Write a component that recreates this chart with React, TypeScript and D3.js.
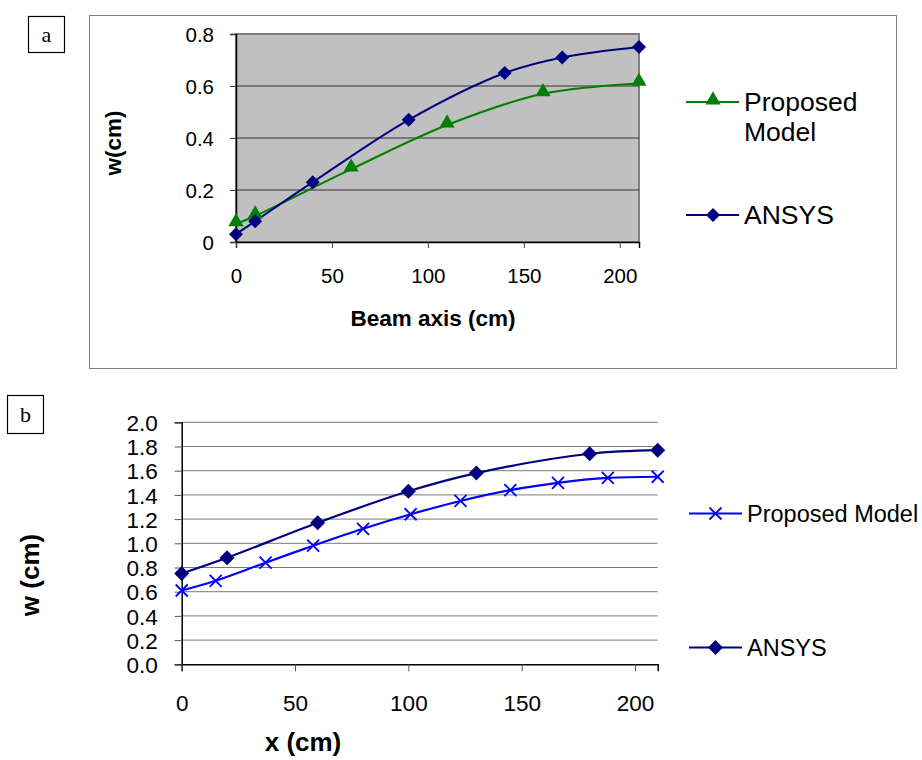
import React, { useEffect, useRef } from "react";
import * as d3 from "d3";

// panel a
const aProposedX = [0, 10, 60, 110, 160, 210];
const aProposedY = [0.07, 0.1, 0.28, 0.45, 0.57, 0.61];
const aAnsysX = [0, 10, 40, 90, 140, 170, 210];
const aAnsysY = [0.03, 0.08, 0.23, 0.47, 0.65, 0.71, 0.75];
const aYTicks = [0, 0.2, 0.4, 0.6, 0.8];
const aXTicks = [0, 50, 100, 150, 200];

// panel b
const bProposedX = [0, 15, 37, 58, 80, 101, 123, 145, 166, 188, 210];
const bProposedY = [0.61, 0.69, 0.84, 0.98, 1.12, 1.24, 1.35, 1.44, 1.5, 1.54, 1.55];
const bAnsysX = [0, 20, 60, 100, 130, 180, 210];
const bAnsysY = [0.75, 0.88, 1.17, 1.43, 1.58, 1.74, 1.77];
const bYTicks = [0, 0.2, 0.4, 0.6, 0.8, 1.0, 1.2, 1.4, 1.6, 1.8, 2.0];
const bXTicks = [0, 50, 100, 150, 200];

const FONT = "'Liberation Sans', Arial, sans-serif";
const GREEN = "#008000";
const NAVY = "#000080";
const BLUE = "#0000ff";

// square diamond (Excel style), r = half width
const diamond = (r: number) => `M0,${-r}L${r},0L0,${r}L${-r},0Z`;

export default function App() {
  const ref = useRef<SVGSVGElement>(null);

  useEffect(() => {
    const svg = d3.select(ref.current);
    svg.selectAll("*").remove();

    const triangle = d3.symbol().type(d3.symbolTriangle).size(100);

    // panel labels
    const tag = (x: number, y: number, w: number, h: number, t: string) => {
      svg.append("rect").attr("x", x).attr("y", y).attr("width", w).attr("height", h)
        .attr("fill", "white").attr("stroke", "black").attr("stroke-width", 1.2);
      svg.append("text").attr("x", x + w / 2).attr("y", y + h / 2 + 7).attr("text-anchor", "middle")
        .attr("font-family", "'Liberation Serif', 'Times New Roman', serif").attr("font-size", 22).text(t);
    };

    // ---------- panel a ----------
    svg.append("rect").attr("x", 89.5).attr("y", 15.5).attr("width", 807).attr("height", 353)
      .attr("fill", "white").attr("stroke", "#808080").attr("stroke-width", 1);
    tag(28.5, 16.5, 36, 36, "a");

    const ax = d3.scaleLinear().domain([0, 210]).range([236, 639]);
    const ay = d3.scaleLinear().domain([0, 0.8]).range([242, 34]);

    const ga = svg.append("g");
    ga.append("rect").attr("x", ax(0)).attr("y", ay(0.8)).attr("width", ax(210) - ax(0))
      .attr("height", ay(0) - ay(0.8)).attr("fill", "#c0c0c0")
      .attr("stroke", "#808080").attr("stroke-width", 2);
    ga.selectAll(".grid").data(aYTicks.filter(d => d > 0 && d < 0.8)).enter().append("line")
      .attr("x1", ax(0)).attr("x2", ax(210)).attr("y1", d => ay(d)).attr("y2", d => ay(d))
      .attr("stroke", "#333").attr("stroke-width", 1);

    const aLeft = ga.append("g").attr("transform", `translate(${ax(0)},0)`)
      .call(d3.axisLeft(ay).tickValues(aYTicks).tickFormat(d => (d === 0 ? "0" : d3.format(".1f")(d as number))).tickSize(6).tickPadding(16));
    const aBottom = ga.append("g").attr("transform", `translate(0,${ay(0)})`)
      .call(d3.axisBottom(ax).tickValues(aXTicks).tickSize(6).tickPadding(20));
    [aLeft, aBottom].forEach(g => {
      g.selectAll("text").attr("font-family", FONT).attr("font-size", 20.5).attr("fill", "black");
      g.select(".domain").attr("stroke", "black").attr("stroke-width", 1.5);
      g.selectAll(".tick line").attr("stroke", "#404040");
    });
    aLeft.selectAll("text").attr("dy", "0.36em");

    const lineA = d3.line<[number, number]>().x(d => ax(d[0])).y(d => ay(d[1])).curve(d3.curveCatmullRom.alpha(0.5));
    const aProp = aProposedX.map((x, i) => [x, aProposedY[i]] as [number, number]);
    const aAns = aAnsysX.map((x, i) => [x, aAnsysY[i]] as [number, number]);
    ga.append("path").attr("d", lineA(aProp)).attr("fill", "none").attr("stroke", GREEN).attr("stroke-width", 2);
    ga.append("path").attr("d", lineA(aAns)).attr("fill", "none").attr("stroke", NAVY).attr("stroke-width", 2);
    ga.selectAll(".tri").data(aProp).enter().append("path").attr("d", triangle)
      .attr("transform", d => `translate(${ax(d[0])},${ay(d[1]) - 2})`).attr("fill", GREEN);
    ga.selectAll(".dia").data(aAns).enter().append("path").attr("d", diamond(7))
      .attr("transform", d => `translate(${ax(d[0])},${ay(d[1])})`).attr("fill", NAVY);

    ga.append("text").attr("x", 433).attr("y", 326).attr("text-anchor", "middle")
      .attr("font-family", FONT).attr("font-weight", "bold").attr("font-size", 22.5).text("Beam axis (cm)");
    ga.append("text").attr("transform", "translate(121,143) rotate(-90)").attr("text-anchor", "middle")
      .attr("font-family", FONT).attr("font-weight", "bold").attr("font-size", 22.5).text("w(cm)");

    // legend a
    const legA = [
      { y: 102, color: GREEN, tri: true, lines: ["Proposed", "Model"] },
      { y: 215, color: NAVY, tri: false, lines: ["ANSYS"] },
    ];
    legA.forEach(l => {
      ga.append("line").attr("x1", 686).attr("x2", 739).attr("y1", l.y).attr("y2", l.y)
        .attr("stroke", l.color).attr("stroke-width", 2);
      ga.append("path").attr("d", l.tri ? triangle() : diamond(7))
        .attr("transform", `translate(713,${l.y - (l.tri ? 2 : 0)})`).attr("fill", l.color);
      l.lines.forEach((t, i) => {
        ga.append("text").attr("x", 744).attr("y", l.y + 9 + i * 30).attr("font-family", FONT)
          .attr("font-size", 26.5).text(t);
      });
    });

    // ---------- panel b ----------
    tag(7.5, 395.5, 36, 38, "b");
    const bx = d3.scaleLinear().domain([0, 210]).range([181.7, 657.7]);
    const by = d3.scaleLinear().domain([0, 2.0]).range([664.3, 422.3]);
    const gb = svg.append("g");
    gb.selectAll(".grid").data(bYTicks.filter(d => d > 0)).enter().append("line")
      .attr("x1", bx(0)).attr("x2", bx(210)).attr("y1", d => by(d)).attr("y2", d => by(d))
      .attr("stroke", "#7a7a7a").attr("stroke-width", 1);
    const bLeft = gb.append("g").attr("transform", `translate(${bx(0)},0)`)
      .call(d3.axisLeft(by).tickValues(bYTicks).tickFormat(d3.format(".1f")).tickSize(7).tickPadding(17));
    const bBottom = gb.append("g").attr("transform", `translate(0,${by(0)})`)
      .call(d3.axisBottom(bx).tickValues(bXTicks).tickSize(7).tickPadding(24));
    [bLeft, bBottom].forEach(g => {
      g.selectAll("text").attr("font-family", FONT).attr("font-size", 22.5).attr("fill", "black");
      g.select(".domain").attr("stroke", "black").attr("stroke-width", 1.5);
      g.selectAll(".tick line").attr("stroke", "#555");
    });
    bLeft.selectAll("text").attr("dy", "0.36em");

    const lineB = d3.line<[number, number]>().x(d => bx(d[0])).y(d => by(d[1])).curve(d3.curveCatmullRom.alpha(0.5));
    const bProp = bProposedX.map((x, i) => [x, bProposedY[i]] as [number, number]);
    const bAns = bAnsysX.map((x, i) => [x, bAnsysY[i]] as [number, number]);
    gb.append("path").attr("d", lineB(bAns)).attr("fill", "none").attr("stroke", NAVY).attr("stroke-width", 2.2);
    gb.append("path").attr("d", lineB(bProp)).attr("fill", "none").attr("stroke", BLUE).attr("stroke-width", 2.2);
    const cross = (g: any, x: number, y: number) => {
      g.append("path").attr("d", `M${x - 6},${y - 6}L${x + 6},${y + 6}M${x - 6},${y + 6}L${x + 6},${y - 6}`)
        .attr("stroke", BLUE).attr("stroke-width", 1.8).attr("fill", "none");
    };
    bProp.forEach(d => cross(gb, bx(d[0]), by(d[1])));
    gb.selectAll(".dia").data(bAns).enter().append("path").attr("d", diamond(7.5))
      .attr("transform", d => `translate(${bx(d[0])},${by(d[1])})`).attr("fill", NAVY);

    gb.append("text").attr("x", 303).attr("y", 751).attr("text-anchor", "middle")
      .attr("font-family", FONT).attr("font-weight", "bold").attr("font-size", 26).text("x (cm)");
    gb.append("text").attr("transform", "translate(39,575) rotate(-90)").attr("text-anchor", "middle")
      .attr("font-family", FONT).attr("font-weight", "bold").attr("font-size", 26).text("w (cm)");

    // legend b
    gb.append("line").attr("x1", 689).attr("x2", 742).attr("y1", 513.5).attr("y2", 513.5).attr("stroke", BLUE).attr("stroke-width", 2.2);
    cross(gb, 715.5, 513.5);
    gb.append("text").attr("x", 747).attr("y", 522).attr("font-family", FONT).attr("font-size", 23.5).text("Proposed Model");
    gb.append("line").attr("x1", 689).attr("x2", 742).attr("y1", 647.5).attr("y2", 647.5).attr("stroke", NAVY).attr("stroke-width", 2.2);
    gb.append("path").attr("d", diamond(7.5)).attr("transform", "translate(715.5,647.5)").attr("fill", NAVY);
    gb.append("text").attr("x", 747).attr("y", 656).attr("font-family", FONT).attr("font-size", 23.5).text("ANSYS");
  }, []);

  return (
    <svg ref={ref} width={922} height={760}
      style={{ position: "absolute", left: 0, top: 0, background: "white" }} />
  );
}
